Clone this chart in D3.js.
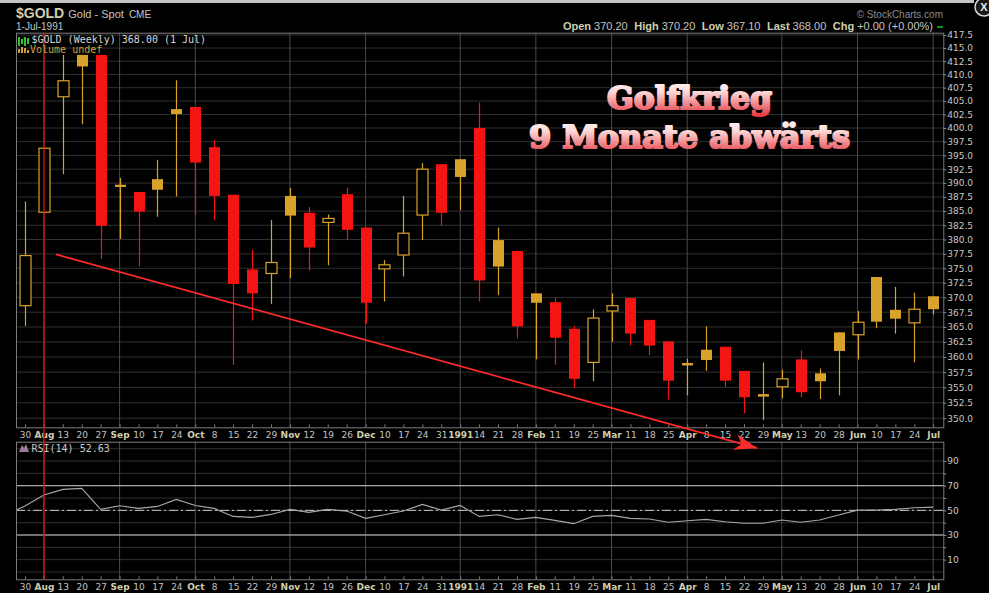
<!DOCTYPE html>
<html>
<head>
<meta charset="utf-8">
<script src="https://cdn.jsdelivr.net/npm/d3@7/dist/d3.min.js"></script>
<style>
  html, body { margin: 0; padding: 0; background: #000; overflow: hidden; }
  svg { display: block; }
</style>
</head>
<body>
<div id="chart"></div>
<script>
// weekly candles, 30 Jul 1990 .. 1 Jul 1991
const xLabels = ['30','Aug','13','20','27','Sep','10','17','24','Oct','8','15','22','29','Nov','12','19','26',
  'Dec','10','17','24','31','1991','14','21','28','Feb','11','19','25','Mar','11','18','25','Apr','8','15','22','29',
  'May','13','20','28','Jun','10','17','24','Jul']

const opens  = [368.6,384.8,405.8,413.7,413.7,389.7,388.4,390.7,403.5,403.9,396.5,387.9,374.8,374.1,387.7,384.7,383.0,388.0,
  382.1,374.9,377.3,384.3,393.4,394.3,400.0,379.9,378.0,370.7,369.2,364.7,359.1,367.7,369.9,366.2,362.6,359.0,361.2,361.7,
  357.7,353.9,355.1,359.6,357.3,364.1,363.7,373.5,367.9,365.7,370.2]
const highs  = [386.7,396.5,413.7,413.7,413.7,390.9,388.4,394.2,408.9,403.9,397.8,387.9,378.2,383.4,389.1,385.7,384.4,389.2,
  382.1,376.4,387.7,393.6,393.4,394.3,404.7,382.1,378.0,370.7,370.0,365.2,368.0,370.7,369.9,366.2,362.6,359.7,365.1,361.7,
  357.7,359.1,357.9,361.1,358.1,364.1,367.7,373.5,371.8,370.8,370.2]
const lows   = [365.2,384.6,391.6,400.7,376.6,380.1,375.3,384.0,387.6,384.3,383.4,358.7,366.1,368.9,373.3,374.6,375.5,379.9,
  365.6,369.3,373.6,379.9,382.4,385.2,369.3,370.4,363.1,359.6,358.7,354.9,356.0,362.5,361.9,360.3,353.0,353.7,357.7,355.1,
  350.8,349.7,353.2,353.4,353.1,353.7,359.6,364.8,363.9,359.1,367.1]
const closes = [377.2,396.3,408.8,411.5,382.4,389.3,384.9,388.8,402.6,393.7,387.7,372.3,370.7,376.0,384.2,378.6,383.7,381.7,
  369.1,375.6,381.1,392.5,384.7,391.1,372.9,375.3,365.1,369.1,363.2,356.4,366.5,368.6,363.9,361.9,356.1,358.6,359.5,356.1,
  353.4,353.5,356.4,354.2,356.0,361.0,365.8,365.9,366.4,368.0,368.0]

// RSI(14), first value is the week before the first candle (23 Jul)
const rsiValues = [46.5,53.5,62.4,67.0,67.8,50.8,53.7,51.6,53.2,58.9,54.0,51.6,45.1,44.3,46.7,50.8,48.4,50.8,49.4,43.5,
  46.4,49.4,54.8,50.2,54.0,45.1,46.4,42.7,44.3,41.9,39.2,45.1,45.9,43.5,43.0,40.3,41.6,42.7,40.8,39.5,39.5,42.2,40.3,
  42.2,46.2,50.2,50.2,50.8,52.1,52.63]

const priceTicks = d3.range(350, 417.6, 2.5)
const rsiGrid = d3.range(0, 101, 10)
const rsiLabels = [10, 30, 50, 70, 90]
const rsiBands = [30, 70]

// hand-drawn annotation (week index, price)
const trendLine = [{ i: 1.64, p: 377.4 }, { i: 38.7, p: 345.2 }]
const markerWeek = 1

const W = 989, H = 593
const gold = '#d9a22a', red = '#f51414'
const main = { left: 16, right: 943.3, top: 32.7, bottom: 427.3 }
const low = { left: 16, right: 943.3, top: 441.7, bottom: 579.3 }

const svg = d3.select('#chart').append('svg').attr('width', W).attr('height', H)
svg.append('rect').attr('width', W).attr('height', H).attr('fill', '#000')

const x = d3.scaleLinear().domain([0, 48]).range([25, 933.2])
const y = d3.scaleLog().domain([350, 417.5]).range([418.2, 35])
const yr = d3.scaleLinear().domain([30, 70]).range([535, 485.7])

const isMonth = l => isNaN(+l) || l === '1991'
const monthIdx = xLabels.map((l, i) => isMonth(l) ? i : -1).filter(i => i >= 0)

const defs = svg.append('defs')
defs.append('clipPath').attr('id', 'clipLow').append('rect')
  .attr('x', low.left).attr('y', low.top)
  .attr('width', low.right - low.left).attr('height', low.bottom - low.top)

// grids
svg.append('g').selectAll('line').data(priceTicks).join('line')
  .attr('x1', main.left).attr('x2', main.right)
  .attr('y1', d => y(d)).attr('y2', d => y(d))
  .attr('stroke', '#303030')

svg.append('g').selectAll('line').data(rsiGrid).join('line')
  .attr('x1', low.left).attr('x2', low.right)
  .attr('y1', d => yr(d)).attr('y2', d => yr(d))
  .attr('stroke', '#303030')

for (const p of [main, low]) {
  svg.append('g').selectAll('line').data(monthIdx).join('line')
    .attr('x1', d => x(d)).attr('x2', d => x(d))
    .attr('y1', p.top).attr('y2', p.bottom)
    .attr('stroke', '#4a4a4a')
}

// RSI bands
svg.append('g').selectAll('line').data(rsiBands).join('line')
  .attr('x1', low.left).attr('x2', low.right)
  .attr('y1', d => yr(d)).attr('y2', d => yr(d))
  .attr('stroke', '#c8c8c8')
svg.append('line')
  .attr('x1', low.left).attr('x2', low.right)
  .attr('y1', yr(50)).attr('y2', yr(50))
  .attr('stroke', '#c8c8c8').attr('stroke-dasharray', '9,3,2,3')

// title
const titleLines = [
  { text: 'Golfkrieg', cx: 689.5, base: 109, len: 165 },
  { text: '9 Monate abwärts', cx: 689.5, base: 148, len: 321 }
]
const grad = defs.append('linearGradient').attr('id', 'tgrad')
  .attr('x1', 0).attr('y1', 0).attr('x2', 0).attr('y2', 1)
grad.append('stop').attr('offset', '0%').attr('stop-color', '#ffffff')
grad.append('stop').attr('offset', '35%').attr('stop-color', '#fcd6d6')
grad.append('stop').attr('offset', '100%').attr('stop-color', '#e5303a')

const title = svg.append('g').selectAll('text').data(titleLines).join('text')
  .attr('x', d => d.cx).attr('y', d => d.base)
  .attr('text-anchor', 'middle')
  .attr('textLength', d => d.len).attr('lengthAdjust', 'spacingAndGlyphs')
  .style('font-family', '"DejaVu Serif", serif')
  .style('font-weight', 'bold')
  .style('font-size', '32px')
  .attr('fill', 'url(#tgrad)')
  .attr('stroke', 'url(#tgrad)').attr('stroke-width', 2.2)
  .attr('stroke-linejoin', 'round')
  .text(d => d.text)

// candles
const candles = d3.range(opens.length).map(i => ({
  i, o: opens[i], h: highs[i], l: lows[i], c: closes[i],
  col: i > 0 && closes[i] < closes[i - 1] ? red : gold,
  hollow: closes[i] > opens[i]
}))
const bw = 11
const cg = svg.append('g').selectAll('g').data(candles).join('g')
cg.append('line')
  .attr('x1', d => Math.round(x(d.i)) + 0.5).attr('x2', d => Math.round(x(d.i)) + 0.5)
  .attr('y1', d => y(d.h)).attr('y2', d => y(d.l))
  .attr('stroke', d => d.col).attr('stroke-width', 1.2)
cg.append('rect')
  .attr('x', d => Math.round(x(d.i)) + 0.5 - bw / 2)
  .attr('width', bw)
  .attr('y', d => y(Math.max(d.o, d.c)))
  .attr('height', d => Math.max(1.5, y(Math.min(d.o, d.c)) - y(Math.max(d.o, d.c))))
  .attr('fill', d => d.hollow ? '#000' : d.col)
  .attr('stroke', d => d.hollow ? d.col : 'none')
  .attr('stroke-width', 1.2)

// RSI line
const rsiLine = d3.line().x((d, k) => x(k - 1)).y(d => yr(d))
svg.append('path').datum(rsiValues)
  .attr('clip-path', 'url(#clipLow)')
  .attr('d', rsiLine)
  .attr('fill', 'none').attr('stroke', '#a8a8a8').attr('stroke-width', 1.1)

// panel borders
for (const p of [main, low]) {
  svg.append('rect')
    .attr('x', p.left + 0.5).attr('y', p.top + 0.5)
    .attr('width', p.right - p.left).attr('height', p.bottom - p.top)
    .attr('fill', 'none').attr('stroke', '#7c7c7c')
}

// axes
const fontAxis = '"DejaVu Sans", Verdana, sans-serif'
function styleX(g) {
  g.select('.domain').remove()
  g.selectAll('line').attr('stroke', '#7c7c7c')
  g.selectAll('text')
    .style('font-family', fontAxis)
    .style('font-size', '9px')
    .style('font-weight', (d) => isMonth(xLabels[d]) ? 'bold' : 'normal')
    .attr('fill', d => isMonth(xLabels[d]) ? '#cfcfae' : '#c4c4c4')
}
const xAxis = d3.axisBottom(x).tickValues(d3.range(49)).tickFormat(i => xLabels[i])
  .tickSizeInner(-3).tickSizeOuter(0).tickPadding(4.6)
svg.append('g').attr('transform', `translate(0,${main.bottom})`).call(xAxis).call(styleX)
svg.append('g').attr('transform', `translate(0,${low.bottom})`).call(xAxis).call(styleX)

function styleY(g) {
  g.select('.domain').remove()
  g.selectAll('line').attr('stroke', '#8a8a8a')
  g.selectAll('text')
    .style('font-family', fontAxis)
    .style('font-size', '9px')
    .attr('fill', '#c8c8c8')
}
svg.append('g').attr('transform', `translate(${main.right},0)`)
  .call(d3.axisRight(y).tickValues(priceTicks).tickFormat(d3.format('.1f')).tickSize(3).tickPadding(1))
  .call(styleY)
svg.append('g').attr('transform', `translate(${low.right},0)`)
  .call(d3.axisRight(yr).tickValues(rsiGrid.filter(d => d > 0 && d < 100))
    .tickFormat(d => rsiLabels.includes(d) ? d : '').tickSize(3).tickPadding(1))
  .call(styleY)

// annotations
defs.append('marker').attr('id', 'arrow')
  .attr('viewBox', '-24 -9 26 18').attr('refX', 0).attr('refY', 0)
  .attr('markerWidth', 26).attr('markerHeight', 18)
  .attr('markerUnits', 'userSpaceOnUse').attr('orient', 'auto')
  .append('path').attr('d', 'M0,0 L-23,-8 L-16,0 L-23,8 Z').attr('fill', '#ff2a2a')

svg.append('path').datum(trendLine)
  .attr('d', d3.line().x(d => x(d.i)).y(d => y(d.p)))
  .attr('fill', 'none').attr('stroke', '#ff2a2a').attr('stroke-width', 1.8)
  .attr('marker-end', 'url(#arrow)')

svg.append('line')
  .attr('x1', x(markerWeek)).attr('x2', x(markerWeek))
  .attr('y1', main.top).attr('y2', low.bottom)
  .attr('stroke', '#e00b0b').attr('stroke-width', 1.4)

// legends
const mono = '"DejaVu Sans Mono", monospace'
svg.append('path').attr('d', 'M19,37v9M22,39v5M25,37v9M28,38v6').attr('stroke', '#2fc52f').attr('stroke-width', 2)
svg.append('text').attr('x', 31.5).attr('y', 43.3)
  .style('font-family', mono).style('font-size', '10px').attr('fill', '#d6d6d6')
  .text('$GOLD (Weekly) 368.00 (1 Jul)')
svg.append('path').attr('d', 'M19,53v-4M22,53v-6M25,53v-5M28,53v-3').attr('stroke', '#d0a040').attr('stroke-width', 2)
svg.append('text').attr('x', 30).attr('y', 53.3)
  .style('font-family', mono).style('font-size', '10px').attr('fill', '#d0a040')
  .text('Volume undef')
svg.append('path').attr('d', 'M19,452 L22,445 L24,448 L26,444 L29,452 Z').attr('fill', '#9a7c9a')
svg.append('text').attr('x', 31.5).attr('y', 451.7)
  .style('font-family', mono).style('font-size', '10px').attr('fill', '#c8c8c8')
  .text('RSI(14) 52.63')

// header
const sans = '"Liberation Sans", Arial, sans-serif'
svg.append('rect').attr('x', 0).attr('y', 0).attr('width', 974).attr('height', 3).attr('fill', '#c4c4c4')
svg.append('circle').attr('cx', 984).attr('cy', 7).attr('r', 9).attr('fill', '#1a1a1a').attr('stroke', '#d8d8d8').attr('stroke-width', 1.5)
svg.append('text').attr('x', 984).attr('y', 11).attr('text-anchor', 'middle')
  .style('font-family', sans).style('font-size', '11px').style('font-weight', 'bold').attr('fill', '#e8e8e8').text('X')

const h1 = svg.append('text').attr('x', 16).attr('y', 18.3).style('font-family', sans)
h1.append('tspan').style('font-size', '14px').style('font-weight', 'bold').attr('fill', '#cfcfae').text('$GOLD')
h1.append('tspan').attr('dx', 4).style('font-size', '11px').attr('fill', '#c4c4c4').text('Gold - Spot')
h1.append('tspan').attr('dx', 5).style('font-size', '10px').attr('fill', '#c4c4c4').text('CME')
svg.append('text').attr('x', 16).attr('y', 30).style('font-family', sans).style('font-size', '10px')
  .attr('fill', '#c4c4c4').text('1-Jul-1991')

svg.append('text').attr('x', 943).attr('y', 17.5).attr('text-anchor', 'end')
  .style('font-family', sans).style('font-size', '10px').attr('fill', '#8c8c8c').text('© StockCharts.com')

const quote = [['Open', '370.20'], ['High', '370.20'], ['Low', '367.10'], ['Last', '368.00'], ['Chg', '+0.00 (+0.00%)']]
const q = svg.append('text').attr('x', 933).attr('y', 29.5).attr('text-anchor', 'end')
  .style('font-family', sans).style('font-size', '11px')
quote.forEach(([k, v], n) => {
  q.append('tspan').attr('dx', n ? 6.5 : 0).style('font-weight', 'bold').attr('fill', '#cfcfae').text(k)
  q.append('tspan').attr('dx', 3).attr('fill', '#c4c4c4').text(v)
})
svg.append('line').attr('x1', 937).attr('x2', 943).attr('y1', 27).attr('y2', 27)
  .attr('stroke', '#18c818').attr('stroke-width', 1.5)
</script>
</body>
</html>
